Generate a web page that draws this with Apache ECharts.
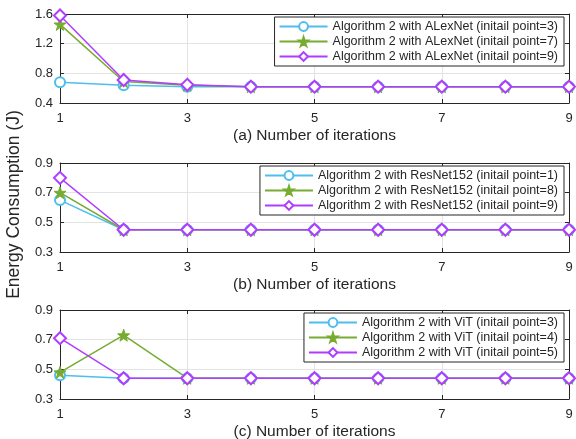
<!DOCTYPE html>
<html>
<head>
<meta charset="utf-8">
<script src="https://cdn.jsdelivr.net/npm/echarts@6/dist/echarts.min.js"></script>
<style>
html, body { margin: 0; padding: 0; background: #fff; }
#chart { width: 576px; height: 439px; }
</style>
</head>
<body>
<div id="chart"></div>
<script>
// iterations 1..9
const iterations = [1, 2, 3, 4, 5, 6, 7, 8, 9];

// (a) AlexNet
const alexP3 = [0.68, 0.64, 0.62, 0.62, 0.62, 0.62, 0.62, 0.62, 0.62];
const alexP7 = [1.46, 0.69, 0.64, 0.62, 0.62, 0.62, 0.62, 0.62, 0.62];
const alexP9 = [1.58, 0.71, 0.645, 0.62, 0.62, 0.62, 0.62, 0.62, 0.62];

// (b) ResNet152
const resP1 = [0.65, 0.45, 0.45, 0.45, 0.45, 0.45, 0.45, 0.45, 0.45];
const resP8 = [0.70, 0.45, 0.45, 0.45, 0.45, 0.45, 0.45, 0.45, 0.45];
const resP9 = [0.80, 0.45, 0.45, 0.45, 0.45, 0.45, 0.45, 0.45, 0.45];

// (c) ViT
const vitP3 = [0.46, 0.44, 0.44, 0.44, 0.44, 0.44, 0.44, 0.44, 0.44];
const vitP4 = [0.48, 0.73, 0.44, 0.44, 0.44, 0.44, 0.44, 0.44, 0.44];
const vitP5 = [0.71, 0.44, 0.44, 0.44, 0.44, 0.44, 0.44, 0.44, 0.44];

const xTitles = ['(a) Number of iterations', '(b) Number of iterations', '(c) Number of iterations'];
const yRanges = [[0.4, 1.6, 0.4], [0.3, 0.9, 0.2], [0.3, 0.9, 0.2]];

const blue = '#4DBEEE', green = '#77AC30', purple = '#B03CFF';
const starPath = 'path://M50,0 L61.8,35.1 L98.1,35.1 L68.8,56.8 L79.4,91 L50,70 L20.6,91 L31.2,56.8 L1.9,35.1 L38.2,35.1 Z';
const FONT = "'Liberation Sans', Arial, sans-serif";
const AX = '#262626';

const panels = [
  { top: 14, legendTop: 17, names: ['ALexNet (initail point=3)', 'ALexNet (initail point=7)', 'ALexNet (initail point=9)'], data: [alexP3, alexP7, alexP9] },
  { top: 163, legendTop: 166, names: ['ResNet152 (initail point=1)', 'ResNet152 (initail point=8)', 'ResNet152 (initail point=9)'], data: [resP1, resP8, resP9] },
  { top: 310, legendTop: 313, names: ['ViT (initail point=3)', 'ViT (initail point=4)', 'ViT (initail point=5)'], data: [vitP3, vitP4, vitP5] }
];

const styles = [
  { color: blue, symbol: 'emptyCircle', size: 10 },
  { color: green, symbol: starPath, size: 12, filled: true },
  { color: purple, symbol: 'emptyDiamond', size: 12 }
];

const grid = [], xAxis = [], yAxis = [], series = [], legend = [];

panels.forEach((p, i) => {
  grid.push({ left: 60, top: p.top, width: 509, height: 89, containLabel: false, outerBoundsMode: 'none' });
  xAxis.push({
    type: 'value', gridIndex: i, min: 1, max: 9, interval: 2,
    name: xTitles[i], nameLocation: 'middle', nameGap: 25,
    nameTextStyle: { fontFamily: FONT, fontSize: 15.5, color: AX },
    axisLine: { onZero: false, lineStyle: { color: AX } },
    axisTick: { inside: true, length: 4, lineStyle: { color: AX } },
    axisLabel: { fontFamily: FONT, fontSize: 13, color: AX, margin: 9 },
    splitLine: { show: true, lineStyle: { color: '#e3e3e3' } }
  });
  xAxis.push({
    type: 'value', gridIndex: i, min: 1, max: 9, interval: 2, position: 'top',
    axisLine: { onZero: false, lineStyle: { color: AX } },
    axisTick: { inside: true, length: 4, lineStyle: { color: AX } },
    axisLabel: { show: false }, splitLine: { show: false }
  });
  const r = yRanges[i];
  yAxis.push({
    type: 'value', gridIndex: i, min: r[0], max: r[1], interval: r[2],
    name: i === 1 ? 'Energy Consumption (J)' : '', nameLocation: 'middle', nameGap: 37,
    nameTextStyle: { fontFamily: FONT, fontSize: 17.5, color: AX, padding: [0, 0, 0, 6] },
    axisLine: { show: true, onZero: false, lineStyle: { color: AX } },
    axisTick: { show: true, inside: true, length: 4, lineStyle: { color: AX } },
    axisLabel: { fontFamily: FONT, fontSize: 13, color: AX, margin: 7, formatter: v => v.toFixed(1) },
    splitLine: { show: true, lineStyle: { color: '#e3e3e3' } }
  });
  yAxis.push({
    type: 'value', gridIndex: i, min: r[0], max: r[1], interval: r[2], position: 'right',
    axisLine: { show: true, onZero: false, lineStyle: { color: AX } },
    axisTick: { show: true, inside: true, length: 4, lineStyle: { color: AX } },
    axisLabel: { show: false }, splitLine: { show: false }
  });

  const names = p.names.map(n => 'Algorithm 2 with ' + n);
  names.forEach((name, k) => {
    const st = styles[k];
    series.push({
      name: name, type: 'line', xAxisIndex: i * 2, yAxisIndex: i * 2,
      data: iterations.map((x, j) => [x, p.data[k][j]]),
      symbol: st.symbol, symbolSize: st.size,
      lineStyle: { color: st.color, width: 1.5 },
      itemStyle: st.filled
        ? { color: st.color, borderColor: st.color, borderWidth: 1 }
        : { color: st.color, borderColor: st.color, borderWidth: 1.5 },
      z: 2 + k,
      animation: false
    });
  });

  legend.push({
    data: names, orient: 'vertical', right: 12, top: p.legendTop,
    itemWidth: 48, itemHeight: 11, itemGap: 2,
    padding: [3, 6, 3, 4],
    borderColor: AX, borderWidth: 1, backgroundColor: '#fff',
    textStyle: { fontFamily: FONT, fontSize: 12.5, color: AX },
    selectedMode: false
  });
});

const chart = echarts.init(document.getElementById('chart'));
chart.setOption({
  animation: false,
  backgroundColor: '#fff',
  grid: grid, xAxis: xAxis, yAxis: yAxis, legend: legend, series: series
});
</script>
</body>
</html>
